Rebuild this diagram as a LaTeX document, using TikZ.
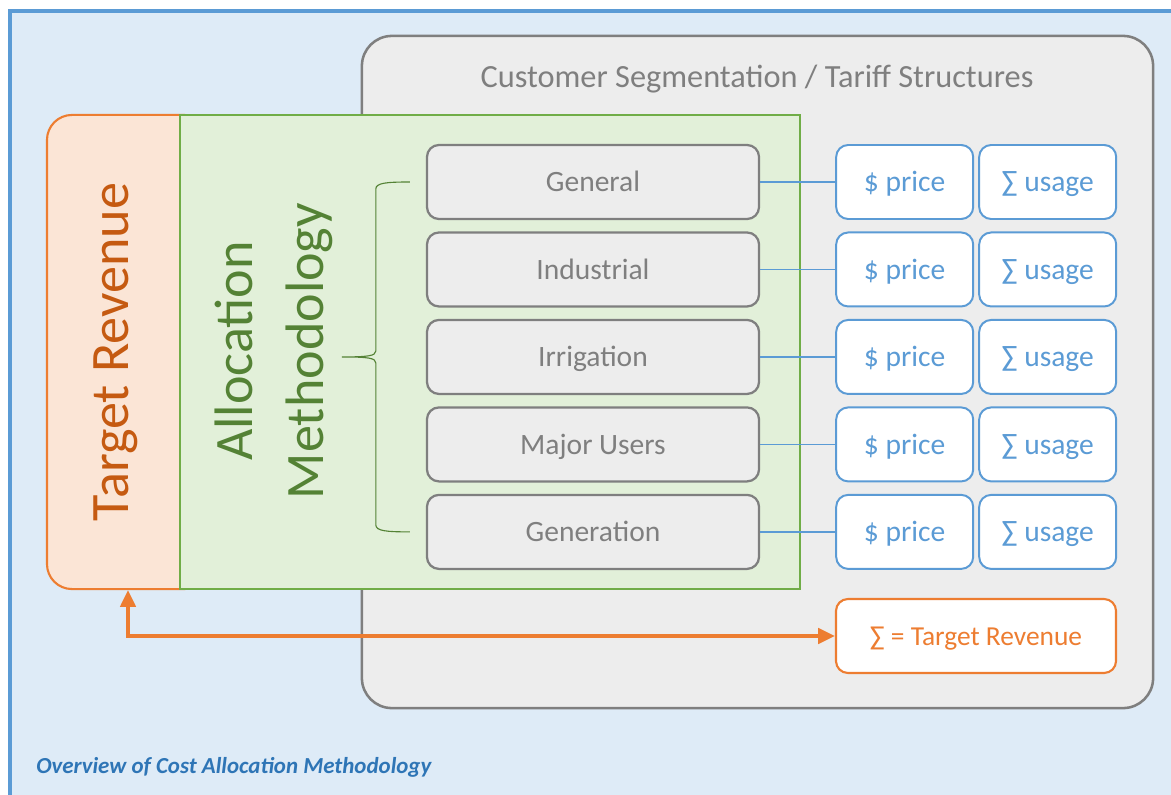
\documentclass[tikz,border=0pt]{standalone}
\usepackage{fontspec}
\setmainfont{Carlito}
\usepackage{tikz}
\usetikzlibrary{arrows.meta, positioning, calc}
\definecolor{frameblue}{HTML}{5B9BD5}
\definecolor{framebg}{HTML}{DEEBF7}
\definecolor{segfill}{HTML}{EDEDED}
\definecolor{seggray}{HTML}{7F7F7F}
\definecolor{revfill}{HTML}{FBE5D6}
\definecolor{revline}{HTML}{ED7D31}
\definecolor{revtext}{HTML}{C55A11}
\definecolor{allocfill}{HTML}{E2F0D9}
\definecolor{allocline}{HTML}{70AD47}
\definecolor{alloctext}{HTML}{548235}
\definecolor{captext}{HTML}{2E75B6}
\tikzset{
  boxtext/.style = {font=\fontsize{21}{25}\selectfont,
    text height=16pt, text depth=1.8pt},
  seg/.style = {boxtext, draw=seggray, fill=segfill, line width=1.6pt,
    rounded corners=0.3cm, minimum width=8.3cm, minimum height=1.85cm,
    text=seggray},
  tariff/.style = {boxtext, draw=frameblue, fill=white, line width=1.4pt,
    rounded corners=0.3cm, minimum width=3.425cm, minimum height=1.85cm,
    text=frameblue},
  sumbox/.style = {boxtext, font=\fontsize{19.5}{24}\selectfont,
    draw=revline, fill=white, line width=1.5pt,
    rounded corners=0.3cm, minimum width=7cm, minimum height=1.85cm,
    text=revline},
  link/.style = {frameblue, line width=0.9pt},
  bigtext/.style = {rotate=90, font=\fontsize{38.5}{50}\selectfont}
}
\begin{document}
\begin{tikzpicture}[x=0.025cm, y=-0.025cm]
\useasboundingbox (0,0) rectangle (1171,795);
% frame
\draw[frameblue, fill=framebg, line width=2.8pt] (10,11) rectangle (1200,820);
% customer segmentation panel
\node[draw=seggray, fill=segfill, line width=1.8pt, rounded corners=0.75cm,
  minimum width=19.775cm, minimum height=16.8cm] (cs) at (757.5,372) {};
\node[anchor=base, text=seggray, font=\fontsize{23}{28}\selectfont]
  (cstitle) at (757,88) {Customer Segmentation / Tariff Structures};
% target revenue and allocation
\node[draw=revline, fill=revfill, line width=1.5pt, rounded corners=0.625cm,
  minimum width=4.05cm, minimum height=11.85cm] (tr) at (128,352) {};
\node[bigtext, anchor=base, text=revtext] (trlabel) at (tr.center)
  {Target Revenue};
\node[draw=allocline, fill=allocfill, line width=1.5pt,
  minimum width=15.5cm, minimum height=11.85cm] (am) at (490,352) {};
\node[bigtext, align=center, text=alloctext] (amlabel) at (274,351)
  {Allocation\\Methodology};
% segments
\node[seg] (gen) at (593,182) {General};
\node[seg, below=0.28cm of gen] (ind) {Industrial};
\node[seg, below=0.28cm of ind] (irr) {Irrigation};
\node[seg, below=0.28cm of irr] (maj) {Major Users};
\node[seg, below=0.28cm of maj] (gnr) {Generation};
% brace
\draw[alloctext, line width=0.8pt]
  ($(gen.west)+(-16,0)$) .. controls ($(gen.west)+(-40,0)$) and ($(gen.west)+(-50,1)$)
  .. ($(gen.west)+(-50,7)$) -- ($(irr.west)+(-50,-6)$)
  .. controls ($(irr.west)+(-50,-1)$) and ($(irr.west)+(-58,0)$) .. ($(irr.west)+(-84,0)$)
  .. controls ($(irr.west)+(-58,0)$) and ($(irr.west)+(-50,1)$) .. ($(irr.west)+(-50,6)$)
  -- ($(gnr.west)+(-50,-7)$) .. controls ($(gnr.west)+(-50,-1)$) and ($(gnr.west)+(-40,0)$)
  .. ($(gnr.west)+(-16,0)$);
% tariffs
\node[tariff, right=1.875cm of gen] (genp) {\$ price};
\node[tariff, right=0.1cm of genp] (genu) {∑ usage};
\node[tariff, right=1.875cm of ind] (indp) {\$ price};
\node[tariff, right=0.1cm of indp] (indu) {∑ usage};
\node[tariff, right=1.875cm of irr] (irrp) {\$ price};
\node[tariff, right=0.1cm of irrp] (irru) {∑ usage};
\node[tariff, right=1.875cm of maj] (majp) {\$ price};
\node[tariff, right=0.1cm of majp] (maju) {∑ usage};
\node[tariff, right=1.875cm of gnr] (gnrp) {\$ price};
\node[tariff, right=0.1cm of gnrp] (gnru) {∑ usage};
\draw[link] (gen.east) -- (genp.west);
\draw[link] (ind.east) -- (indp.west);
\draw[link] (irr.east) -- (irrp.west);
\draw[link] (maj.east) -- (majp.west);
\draw[link] (gnr.east) -- (gnrp.west);
% revenue check
\node[sumbox] (sum) at (976,636) {∑ = Target Revenue};
\draw[revline, line width=2.4pt, {Triangle[length=12pt,width=11pt]}-{Triangle[length=12pt,width=11pt]}]
  (tr.south) |- (sum.west);
% caption
\node[anchor=base west, inner sep=0pt, text=captext,
  font=\fontsize{16.3}{19}\selectfont\bfseries\itshape] (cap) at (36,773)
  {Overview of Cost Allocation Methodology};
\end{tikzpicture}
\end{document}
